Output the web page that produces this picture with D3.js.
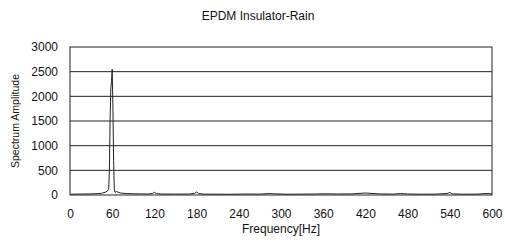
<!DOCTYPE html>
<html>
<head>
<meta charset="utf-8">
<script src="https://cdn.jsdelivr.net/npm/d3@7"></script>
<style>
body { margin: 0; background: #fff; }
text { font-family: "Liberation Sans", Arial, sans-serif; fill: #111; }
</style>
</head>
<body>
<svg id="chart" width="505" height="242"></svg>
<script>
var freqs = [0, 10, 20, 30, 40, 45, 50, 53, 55, 56, 57, 58, 59, 60, 61, 62, 63, 64, 66, 68, 72, 80, 90, 100, 110, 117, 120, 123, 130, 150, 170, 177, 180, 183, 190, 210, 230, 250, 270, 285, 290, 300, 310, 330, 350, 360, 380, 400, 420, 440, 460, 470, 480, 500, 520, 536, 540, 544, 560, 580, 590, 600];
var amps  = [15, 18, 20, 22, 28, 35, 55, 80, 110, 500, 1500, 2150, 2300, 2550, 1800, 700, 120, 55, 70, 60, 40, 30, 25, 22, 20, 30, 55, 28, 20, 18, 20, 35, 60, 30, 18, 16, 15, 20, 18, 30, 22, 20, 15, 18, 20, 25, 20, 22, 40, 22, 18, 30, 20, 16, 18, 30, 50, 22, 16, 18, 30, 25];
var xTicks = [0, 60, 120, 180, 240, 300, 360, 420, 480, 540, 600];
var yTicks = [0, 500, 1000, 1500, 2000, 2500, 3000];

var svg = d3.select('#chart'),
	margin = {top: 47, right: 13, bottom: 47, left: 70},
	width = +svg.attr("width") - margin.left - margin.right,
	height = +svg.attr("height") - margin.top - margin.bottom;

var chart = svg.append("g")
	.attr("transform", "translate(" + margin.left + "," + margin.top + ")");

var x = d3.scaleLinear().domain([0, 600]).range([0, width]);
var y = d3.scaleLinear().domain([0, 3000]).range([height, 0]);

// grid lines
chart.selectAll("line.grid")
	.data(yTicks.slice(1, -1))
	.enter().append("line")
	.attr("class", "grid")
	.attr("x1", 0).attr("x2", width)
	.attr("y1", function(d) { return y(d); })
	.attr("y2", function(d) { return y(d); })
	.attr("stroke", "#222")
	.attr("stroke-width", 1);

chart.append("rect")
	.attr("width", width).attr("height", height)
	.attr("fill", "none").attr("stroke", "#222").attr("stroke-width", 1);

var xAxis = chart.append("g")
	.attr("transform", "translate(0," + height + ")")
	.call(d3.axisBottom(x).tickValues(xTicks).tickSize(0).tickPadding(14).tickFormat(d3.format("d")));
var yAxis = chart.append("g")
	.call(d3.axisLeft(y).tickValues(yTicks).tickSize(0).tickPadding(12).tickFormat(d3.format("d")));
svg.selectAll(".domain").remove();
svg.selectAll(".tick text").style("font-size", "12px")
	.style("font-family", "'Liberation Sans', Arial, sans-serif").attr("fill", "#111");

var line = d3.line()
	.x(function(d, i) { return x(freqs[i]); })
	.y(function(d) { return y(d); });

chart.append("path")
	.datum(amps)
	.attr("d", line)
	.attr("fill", "none")
	.attr("stroke", "#222")
	.attr("stroke-width", 1);

svg.append("text")
	.attr("x", 258).attr("y", 20)
	.attr("text-anchor", "middle")
	.style("font-size", "12px")
	.text("EPDM Insulator-Rain");

svg.append("text")
	.attr("x", 281).attr("y", 233)
	.attr("text-anchor", "middle")
	.style("font-size", "12px")
	.text("Frequency[Hz]");

svg.append("text")
	.attr("transform", "translate(19," + (margin.top + height / 2) + ") rotate(-90)")
	.attr("text-anchor", "middle")
	.style("font-size", "10.5px")
	.text("Spectrum  Amplitude");
</script>
</body>
</html>
